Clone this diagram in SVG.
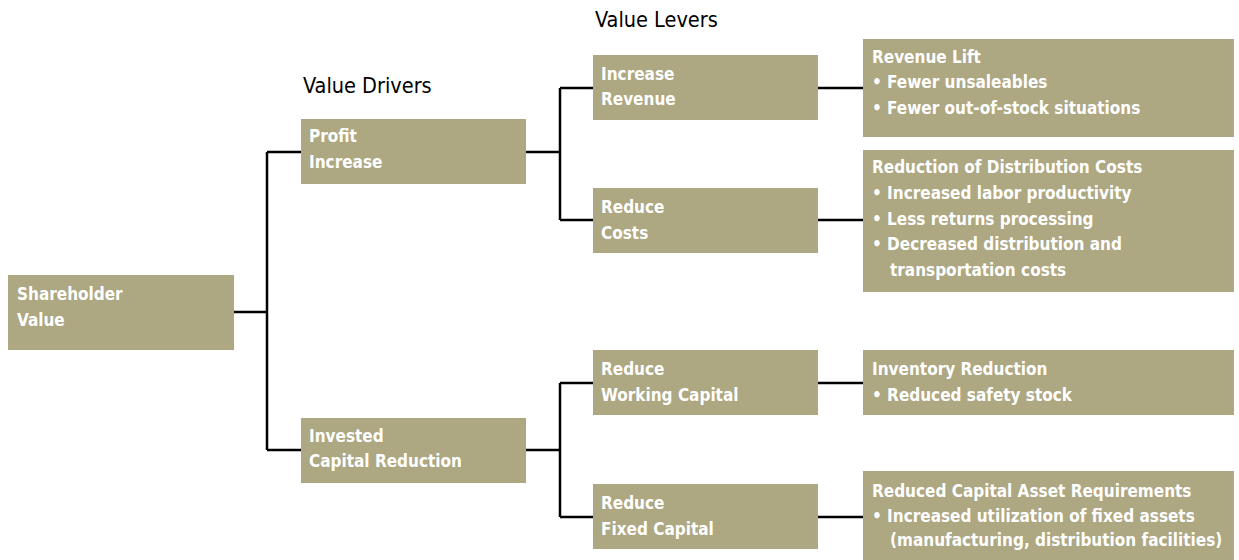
<svg xmlns="http://www.w3.org/2000/svg" width="1239" height="560" viewBox="0 0 1239 560">
<style>
.box{fill:#ADA782}
.t{font-family:"DejaVu Sans Condensed","DejaVu Sans",sans-serif;font-size:17px;font-weight:bold;fill:#ffffff}
.h{font-family:"DejaVu Sans Condensed","DejaVu Sans",sans-serif;font-size:21.5px;fill:#000000}
.c{fill:none;stroke:#000000;stroke-width:2.5}
</style>
<rect width="1239" height="560" fill="#ffffff"/>
<text class="h" x="303" y="93">Value Drivers</text>
<text class="h" x="595" y="27">Value Levers</text>
<g id="connectors">
<path class="c" d="M234,312H267M267,152V450M267,152H301M267,450H301"/>
<path class="c" d="M526,152H560M560,88V220M560,88H593M560,220H593"/>
<path class="c" d="M526,450H560M560,383V517M560,383H593M560,517H593"/>
<path class="c" d="M818,88H863M818,220H863M818,383H863M818,517H863"/>
</g>
<g id="shareholder"><rect class="box" x="8" y="275" width="226" height="75"/><text class="t" x="17" y="300">Shareholder</text><text class="t" x="17" y="326">Value</text></g>
<g id="profit"><rect class="box" x="301" y="119" width="225" height="65"/><text class="t" x="309" y="142">Profit</text><text class="t" x="309" y="168">Increase</text></g>
<g id="invested"><rect class="box" x="301" y="418" width="225" height="65"/><text class="t" x="309" y="442">Invested</text><text class="t" x="309" y="467">Capital Reduction</text></g>
<g id="increase-revenue"><rect class="box" x="593" y="55" width="225" height="65"/><text class="t" x="601" y="80">Increase</text><text class="t" x="601" y="105">Revenue</text></g>
<g id="reduce-costs"><rect class="box" x="593" y="188" width="225" height="65"/><text class="t" x="601" y="213">Reduce</text><text class="t" x="601" y="239">Costs</text></g>
<g id="reduce-working"><rect class="box" x="593" y="350" width="225" height="65"/><text class="t" x="601" y="375">Reduce</text><text class="t" x="601" y="401">Working Capital</text></g>
<g id="reduce-fixed"><rect class="box" x="593" y="484" width="225" height="65"/><text class="t" x="601" y="509">Reduce</text><text class="t" x="601" y="535">Fixed Capital</text></g>
<g id="revenue-lift"><rect class="box" x="863" y="39" width="371" height="98"/><text class="t" x="872" y="63">Revenue Lift</text><text class="t" x="872" y="88">• Fewer unsaleables</text><text class="t" x="872" y="114">• Fewer out-of-stock situations</text></g>
<g id="distribution"><rect class="box" x="863" y="150" width="371" height="142"/><text class="t" x="872" y="173">Reduction of Distribution Costs</text><text class="t" x="872" y="199">• Increased labor productivity</text><text class="t" x="872" y="225">• Less returns processing</text><text class="t" x="872" y="250">• Decreased distribution and</text><text class="t" x="890" y="276">transportation costs</text></g>
<g id="inventory"><rect class="box" x="863" y="350" width="371" height="65"/><text class="t" x="872" y="375">Inventory Reduction</text><text class="t" x="872" y="401">• Reduced safety stock</text></g>
<g id="capital-asset"><rect class="box" x="863" y="471" width="371" height="89"/><text class="t" x="872" y="497">Reduced Capital Asset Requirements</text><text class="t" x="872" y="522">• Increased utilization of fixed assets</text><text class="t" x="890" y="546">(manufacturing, distribution facilities)</text></g>
</svg>
